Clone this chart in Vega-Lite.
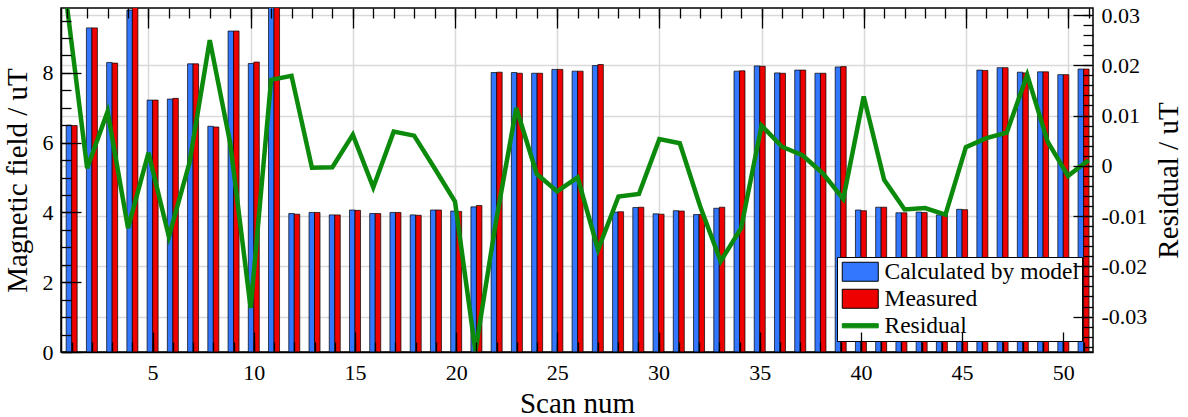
{
  "$schema": "https://vega.github.io/schema/vega-lite/v6.json",
  "width": 1032,
  "height": 344,
  "autosize": {"type": "none"},
  "padding": {"left": 61, "top": 8, "right": 95, "bottom": 65},
  "background": "white",
  "config": {
    "font": "Liberation Serif",
    "view": {"stroke": "black", "strokeWidth": 1.5},
    "axis": {
      "labelFont": "Liberation Serif", "labelFontSize": 22, "labelColor": "black",
      "titleFont": "Liberation Serif", "titleFontSize": 29, "titleFontWeight": "normal", "titleColor": "black",
      "tickColor": "black", "tickWidth": 1.3, "domainColor": "black", "domainWidth": 1.5,
      "gridColor": "#d9d9d9", "gridWidth": 1.5, "labelFlush": false, "labelOverlap": false
    }
  },
  "datasets": {
    "scans": [
      {"scan": 1, "calc": 6.50, "meas": 6.49, "resid": 0.0322},
      {"scan": 2, "calc": 9.29, "meas": 9.29, "resid": -0.0005},
      {"scan": 3, "calc": 8.30, "meas": 8.28, "resid": 0.0108},
      {"scan": 4, "calc": 9.80, "meas": 9.90, "resid": -0.0124},
      {"scan": 5, "calc": 7.22, "meas": 7.22, "resid": 0.0026},
      {"scan": 6, "calc": 7.25, "meas": 7.27, "resid": -0.0141},
      {"scan": 7, "calc": 8.26, "meas": 8.26, "resid": 0.0005},
      {"scan": 8, "calc": 6.47, "meas": 6.45, "resid": 0.0250},
      {"scan": 9, "calc": 9.20, "meas": 9.20, "resid": 0.0045},
      {"scan": 10, "calc": 8.27, "meas": 8.31, "resid": -0.0283},
      {"scan": 11, "calc": 10.1, "meas": 10.1, "resid": 0.0171},
      {"scan": 12, "calc": 3.97, "meas": 3.95, "resid": 0.0179},
      {"scan": 13, "calc": 4.00, "meas": 4.00, "resid": -0.0004},
      {"scan": 14, "calc": 3.93, "meas": 3.93, "resid": -0.0003},
      {"scan": 15, "calc": 4.07, "meas": 4.06, "resid": 0.0062},
      {"scan": 16, "calc": 3.97, "meas": 3.97, "resid": -0.0043},
      {"scan": 17, "calc": 4.00, "meas": 4.00, "resid": 0.0068},
      {"scan": 18, "calc": 3.93, "meas": 3.92, "resid": 0.0060},
      {"scan": 19, "calc": 4.07, "meas": 4.07, "resid": -0.0005},
      {"scan": 20, "calc": 4.04, "meas": 4.03, "resid": -0.0071},
      {"scan": 21, "calc": 4.16, "meas": 4.20, "resid": -0.0369},
      {"scan": 22, "calc": 8.01, "meas": 8.02, "resid": -0.0112},
      {"scan": 23, "calc": 8.01, "meas": 7.99, "resid": 0.0115},
      {"scan": 24, "calc": 7.99, "meas": 7.99, "resid": -0.0016},
      {"scan": 25, "calc": 8.10, "meas": 8.10, "resid": -0.0051},
      {"scan": 26, "calc": 8.05, "meas": 8.05, "resid": -0.0023},
      {"scan": 27, "calc": 8.21, "meas": 8.24, "resid": -0.0167},
      {"scan": 28, "calc": 4.01, "meas": 4.02, "resid": -0.0061},
      {"scan": 29, "calc": 4.14, "meas": 4.15, "resid": -0.0056},
      {"scan": 30, "calc": 3.96, "meas": 3.95, "resid": 0.0053},
      {"scan": 31, "calc": 4.05, "meas": 4.04, "resid": 0.0045},
      {"scan": 32, "calc": 3.94, "meas": 3.94, "resid": -0.0081},
      {"scan": 33, "calc": 4.12, "meas": 4.15, "resid": -0.0190},
      {"scan": 34, "calc": 8.05, "meas": 8.06, "resid": -0.0124},
      {"scan": 35, "calc": 8.20, "meas": 8.19, "resid": 0.0080},
      {"scan": 36, "calc": 8.00, "meas": 7.99, "resid": 0.0038},
      {"scan": 37, "calc": 8.08, "meas": 8.08, "resid": 0.0021},
      {"scan": 38, "calc": 7.99, "meas": 7.99, "resid": -0.0015},
      {"scan": 39, "calc": 8.17, "meas": 8.18, "resid": -0.0066},
      {"scan": 40, "calc": 4.07, "meas": 4.05, "resid": 0.0138},
      {"scan": 41, "calc": 4.15, "meas": 4.15, "resid": -0.0028},
      {"scan": 42, "calc": 3.99, "meas": 3.99, "resid": -0.0087},
      {"scan": 43, "calc": 4.01, "meas": 4.00, "resid": -0.0084},
      {"scan": 44, "calc": 3.93, "meas": 3.93, "resid": -0.0097},
      {"scan": 45, "calc": 4.09, "meas": 4.08, "resid": 0.0037},
      {"scan": 46, "calc": 8.08, "meas": 8.07, "resid": 0.0055},
      {"scan": 47, "calc": 8.15, "meas": 8.15, "resid": 0.0066},
      {"scan": 48, "calc": 8.02, "meas": 8.00, "resid": 0.0181},
      {"scan": 49, "calc": 8.03, "meas": 8.03, "resid": 0.0048},
      {"scan": 50, "calc": 7.95, "meas": 7.95, "resid": -0.0020},
      {"scan": 51, "calc": 8.11, "meas": 8.11, "resid": 0.0011}
    ],
    "legendItems": [
      {"series": "Calculated by model"},
      {"series": "Measured"},
      {"series": "Residual"}
    ]
  },
  "resolve": {
    "scale": {"x": "independent", "y": "independent"},
    "axis": {"x": "independent", "y": "independent"}
  },
  "layer": [
    {
      "data": {"name": "scans"},
      "mark": {"type": "line", "opacity": 0, "clip": true},
      "encoding": {
        "x": {"field": "scan", "type": "quantitative", "scale": {"domain": [0.72, 51.22], "nice": false, "zero": false},
          "axis": {"orient": "bottom", "values": [5, 10, 15, 20, 25, 30, 35, 40, 45, 50], "grid": true, "ticks": false, "labels": false, "domain": false, "title": null, "zindex": 0}},
        "y": {"field": "resid", "type": "quantitative", "scale": {"domain": [-0.03705, 0.0314], "nice": false, "zero": false},
          "axis": {"orient": "right", "values": [-0.03, -0.02, -0.01, 0, 0.01, 0.02, 0.03], "grid": true, "ticks": false, "labels": false, "domain": false, "title": null, "zindex": 0}}
      }
    },
    {
      "data": {"name": "scans"},
      "mark": {"type": "bar", "orient": "vertical", "xOffset": -2.75, "width": 5.5, "fill": "#3377ff", "stroke": "black", "strokeWidth": 0.7, "clip": true},
      "encoding": {
        "x": {"field": "scan", "type": "quantitative", "scale": {"domain": [0.72, 51.22], "nice": false, "zero": false},
          "axis": {"orient": "bottom", "values": [5, 10, 15, 20, 25, 30, 35, 40, 45, 50], "tickSize": -20, "labelPadding": 30, "grid": false, "zindex": 1, "title": "Scan num", "titlePadding": 6}},
        "y": {"field": "calc", "type": "quantitative", "scale": {"domain": [0, 9.86], "nice": false},
          "axis": {"orient": "left", "values": [0, 2, 4, 6, 8], "tickSize": -20, "labelPadding": 28, "grid": false, "zindex": 1, "title": "Magnetic field / uT", "titlePadding": 10}}
      }
    },
    {
      "data": {"name": "scans"},
      "mark": {"type": "bar", "orient": "vertical", "xOffset": 2.75, "width": 5.5, "fill": "#ee0000", "stroke": "black", "strokeWidth": 0.7, "clip": true},
      "encoding": {
        "x": {"field": "scan", "type": "quantitative", "scale": {"domain": [0.72, 51.22], "nice": false, "zero": false},
          "axis": {"orient": "bottom", "values": [1,2,3,4,5,6,7,8,9,10,11,12,13,14,15,16,17,18,19,20,21,22,23,24,25,26,27,28,29,30,31,32,33,34,35,36,37,38,39,40,41,42,43,44,45,46,47,48,49,50,51], "tickSize": -10, "labels": false, "domain": false, "grid": false, "zindex": 1, "title": null}},
        "y": {"field": "meas", "type": "quantitative", "scale": {"domain": [0, 9.86], "nice": false},
          "axis": {"orient": "left", "values": [0,0.5,1,1.5,2,2.5,3,3.5,4,4.5,5,5.5,6,6.5,7,7.5,8,8.5,9,9.5], "tickSize": -10, "labels": false, "domain": false, "grid": false, "zindex": 1, "title": null}}
      }
    },
    {
      "data": {"name": "scans"},
      "mark": {"type": "line", "stroke": "#0b8a0b", "strokeWidth": 4.5, "strokeJoin": "miter", "clip": true},
      "encoding": {
        "x": {"field": "scan", "type": "quantitative", "scale": {"domain": [0.72, 51.22], "nice": false, "zero": false},
          "axis": {"orient": "top", "values": [5, 10, 15, 20, 25, 30, 35, 40, 45, 50], "tickSize": -20, "labels": false, "domain": false, "grid": false, "zindex": 1, "title": null}},
        "y": {"field": "resid", "type": "quantitative", "scale": {"domain": [-0.03705, 0.0314], "nice": false, "zero": false},
          "axis": {"orient": "right", "values": [-0.03, -0.02, -0.01, 0, 0.01, 0.02, 0.03], "tickSize": -20, "labelPadding": 28,
            "labelExpr": "datum.value === 0 ? '0' : (datum.value < 0 ? '-' : '') + format(abs(datum.value), '.2f')",
            "grid": false, "domain": false, "zindex": 1, "title": "Residual / uT", "titleAngle": 270, "titleBaseline": "top", "titlePadding": 8}}
      }
    },
    {
      "data": {"name": "scans"},
      "mark": {"type": "line", "opacity": 0, "clip": true},
      "encoding": {
        "x": {"field": "scan", "type": "quantitative", "scale": {"domain": [0.72, 51.22], "nice": false, "zero": false},
          "axis": {"orient": "top", "values": [1,2,3,4,5,6,7,8,9,10,11,12,13,14,15,16,17,18,19,20,21,22,23,24,25,26,27,28,29,30,31,32,33,34,35,36,37,38,39,40,41,42,43,44,45,46,47,48,49,50,51], "tickSize": -10, "labels": false, "domain": false, "grid": false, "zindex": 1, "title": null}},
        "y": {"field": "resid", "type": "quantitative", "scale": {"domain": [-0.03705, 0.0314], "nice": false, "zero": false},
          "axis": {"orient": "right", "values": [-0.036,-0.034,-0.032,-0.03,-0.028,-0.026,-0.024,-0.022,-0.02,-0.018,-0.016,-0.014,-0.012,-0.01,-0.008,-0.006,-0.004,-0.002,0,0.002,0.004,0.006,0.008,0.01,0.012,0.014,0.016,0.018,0.02,0.022,0.024,0.026,0.028,0.03], "tickSize": -10, "labels": false, "domain": false, "grid": false, "zindex": 1, "title": null}}
      }
    },
    {
      "data": {"name": "legendItems"},
      "mark": {"type": "point", "filled": true, "opacity": 0, "size": 361},
      "encoding": {
        "fill": {"field": "series", "type": "nominal",
          "scale": {"domain": ["Calculated by model", "Measured", "Residual"], "range": ["#3377ff", "#ee0000", "#0b8a0b"]},
          "legend": {"title": null, "orient": "bottom-right", "offset": 11, "padding": 3, "strokeColor": "black", "fillColor": "white",
            "labelFontSize": 23.5, "labelFont": "Liberation Serif", "labelColor": "black", "labelOffset": 21, "rowPadding": 2, "labelLimit": 0,
            "symbolOpacity": 1, "symbolSize": 361, "symbolStrokeWidth": 1, "symbolFillColor": "#ffffff", "zindex": 0, "cornerRadius": 0}},
        "stroke": {"field": "series", "type": "nominal",
          "scale": {"domain": ["Calculated by model", "Measured", "Residual"], "range": ["black", "black", "#0b8a0b"]},
          "legend": {"title": null, "orient": "bottom-right", "offset": 11, "padding": 3, "strokeColor": "black", "fillColor": "white",
            "labelFontSize": 23.5, "labelFont": "Liberation Serif", "labelColor": "black", "labelOffset": 21, "rowPadding": 2, "labelLimit": 0,
            "symbolOpacity": 1, "symbolSize": 361, "symbolStrokeWidth": 1, "symbolFillColor": "#ffffff", "zindex": 0, "cornerRadius": 0}},
        "shape": {"field": "series", "type": "nominal",
          "scale": {"domain": ["Calculated by model", "Measured", "Residual"], "range": ["M-1,-1H2.79V1H-1Z", "M-1,-1H2.79V1H-1Z", "M-1,-0.22H2.79V0.22H-1Z"]},
          "legend": {"title": null, "orient": "bottom-right", "offset": 11, "padding": 3, "strokeColor": "black", "fillColor": "white",
            "labelFontSize": 23.5, "labelFont": "Liberation Serif", "labelColor": "black", "labelOffset": 21, "rowPadding": 2, "labelLimit": 0,
            "symbolOpacity": 1, "symbolSize": 361, "symbolStrokeWidth": 1, "symbolFillColor": "#ffffff", "zindex": 0, "cornerRadius": 0}}
      }
    }
  ]
}
